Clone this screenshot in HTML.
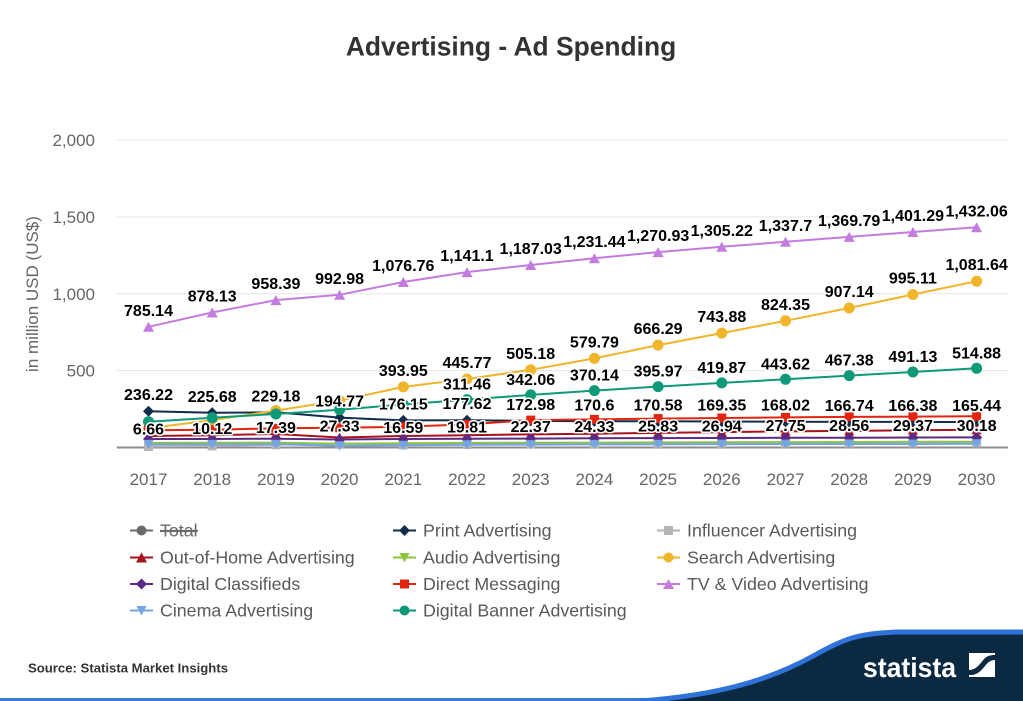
<!DOCTYPE html>
<html>
<head>
<meta charset="utf-8">
<style>
  html, body { margin:0; padding:0; background:#ffffff; }
  body { width:1023px; height:701px; overflow:hidden; }
  svg { display:block; }
  .ax { font-family:"Liberation Sans", sans-serif; font-size:17px; fill:#666666; }
  .dl { font-family:"Liberation Sans", sans-serif; font-size:16px; font-weight:bold; fill:#000000; stroke:#ffffff; stroke-width:3px; paint-order:stroke; stroke-linejoin:round; text-anchor:middle; }
  .lg { font-family:"Liberation Sans", sans-serif; font-size:17.8px; fill:#595959; }
</style>
</head>
<body>
<svg width="1023" height="701" viewBox="0 0 1023 701" xmlns="http://www.w3.org/2000/svg">
  <defs>
    <marker id="m-print" viewBox="-7 -7 14 14" markerWidth="14" markerHeight="14" refX="0" refY="0" markerUnits="userSpaceOnUse"><path d="M0,-5.5 L5.5,0 L0,5.5 L-5.5,0 Z" fill="#122d4a"/></marker>
    <marker id="m-infl" viewBox="-7 -7 14 14" markerWidth="14" markerHeight="14" refX="0" refY="0" markerUnits="userSpaceOnUse"><path d="M-4.5,-4.5 h9 v9 h-9 Z" fill="#b5b5b5"/></marker>
    <marker id="m-ooh" viewBox="-7 -7 14 14" markerWidth="14" markerHeight="14" refX="0" refY="0" markerUnits="userSpaceOnUse"><path d="M0,-5 L5,4.5 L-5,4.5 Z" fill="#a8121c"/></marker>
    <marker id="m-audio" viewBox="-7 -7 14 14" markerWidth="14" markerHeight="14" refX="0" refY="0" markerUnits="userSpaceOnUse"><path d="M-5,-4.5 L5,-4.5 L0,5 Z" fill="#8cc63e"/></marker>
    <marker id="m-search" viewBox="-7 -7 14 14" markerWidth="14" markerHeight="14" refX="0" refY="0" markerUnits="userSpaceOnUse"><circle r="5.5" fill="#f0b52a"/></marker>
    <marker id="m-dc" viewBox="-7 -7 14 14" markerWidth="14" markerHeight="14" refX="0" refY="0" markerUnits="userSpaceOnUse"><path d="M0,-5.5 L5.5,0 L0,5.5 L-5.5,0 Z" fill="#5d2a83"/></marker>
    <marker id="m-dm" viewBox="-7 -7 14 14" markerWidth="14" markerHeight="14" refX="0" refY="0" markerUnits="userSpaceOnUse"><path d="M-4.5,-4.5 h9 v9 h-9 Z" fill="#e3240e"/></marker>
    <marker id="m-tv" viewBox="-7 -7 14 14" markerWidth="14" markerHeight="14" refX="0" refY="0" markerUnits="userSpaceOnUse"><path d="M0,-5 L5.5,5 L-5.5,5 Z" fill="#c47be0"/></marker>
    <marker id="m-cin" viewBox="-7 -7 14 14" markerWidth="14" markerHeight="14" refX="0" refY="0" markerUnits="userSpaceOnUse"><path d="M-5,-4.5 L5,-4.5 L0,5 Z" fill="#74a4e4"/></marker>
    <marker id="m-ban" viewBox="-7 -7 14 14" markerWidth="14" markerHeight="14" refX="0" refY="0" markerUnits="userSpaceOnUse"><circle r="5.5" fill="#0e9a78"/></marker>
  </defs>

  <!-- Title -->
  <text x="511" y="55.5" text-anchor="middle" font-family="Liberation Sans, sans-serif" font-size="26.4" font-weight="bold" fill="#333333">Advertising - Ad Spending</text>

  <!-- Grid -->
  <g stroke="#e6e6e6" stroke-width="1">
    <line x1="116.7" y1="140" x2="1008" y2="140"/>
    <line x1="116.7" y1="216.9" x2="1008" y2="216.9"/>
    <line x1="116.7" y1="293.7" x2="1008" y2="293.7"/>
    <line x1="116.7" y1="370.6" x2="1008" y2="370.6"/>
  </g>
  <line x1="116.7" y1="447.5" x2="1008" y2="447.5" stroke="#8c8c8c" stroke-width="2"/>

  <!-- Y axis labels -->
  <g class="ax" text-anchor="end">
    <text x="95" y="146">2,000</text>
    <text x="95" y="223">1,500</text>
    <text x="95" y="300">1,000</text>
    <text x="95" y="376.5">500</text>
  </g>
  <text class="ax" transform="translate(38,294) rotate(-90)" text-anchor="middle">in million USD (US$)</text>

  <!-- X axis labels -->
  <g class="ax" text-anchor="middle">
    <text x="148.5" y="485">2017</text>
    <text x="212.2" y="485">2018</text>
    <text x="275.9" y="485">2019</text>
    <text x="339.6" y="485">2020</text>
    <text x="403.3" y="485">2021</text>
    <text x="467.0" y="485">2022</text>
    <text x="530.7" y="485">2023</text>
    <text x="594.4" y="485">2024</text>
    <text x="658.1" y="485">2025</text>
    <text x="721.8" y="485">2026</text>
    <text x="785.5" y="485">2027</text>
    <text x="849.2" y="485">2028</text>
    <text x="912.9" y="485">2029</text>
    <text x="976.6" y="485">2030</text>
  </g>

  <!-- Series -->
  <g fill="none" stroke-width="2" stroke-linejoin="round">
    <polyline stroke="#122d4a" marker-start="url(#m-print)" marker-mid="url(#m-print)" marker-end="url(#m-print)"
      points="148.5,411.2 212.2,412.8 275.9,412.3 339.6,417.6 403.3,420.4 467.0,420.2 530.7,420.9 594.4,421.3 658.1,421.3 721.8,421.5 785.5,421.7 849.2,421.9 912.9,421.9 976.6,422.1"/>
    <polyline stroke="#b5b5b5" marker-start="url(#m-infl)" marker-mid="url(#m-infl)" marker-end="url(#m-infl)"
      points="148.5,446.5 212.2,445.9 275.9,444.8 339.6,443.3 403.3,445.0 467.0,444.5 530.7,444.1 594.4,443.8 658.1,443.5 721.8,443.4 785.5,443.2 849.2,443.1 912.9,443.0 976.6,442.9"/>
    <polyline stroke="#a8121c" marker-start="url(#m-ooh)" marker-mid="url(#m-ooh)" marker-end="url(#m-ooh)"
      points="148.5,436.0 212.2,435.2 275.9,434.0 339.6,437.5 403.3,436.0 467.0,435.2 530.7,434.4 594.4,433.7 658.1,432.9 721.8,432.1 785.5,431.4 849.2,430.9 912.9,430.3 976.6,429.8"/>
    <polyline stroke="#8cc63e" marker-start="url(#m-audio)" marker-mid="url(#m-audio)" marker-end="url(#m-audio)"
      points="148.5,442.9 212.2,442.7 275.9,442.6 339.6,443.7 403.3,443.2 467.0,442.9 530.7,442.7 594.4,442.6 658.1,442.4 721.8,442.3 785.5,442.1 849.2,442.0 912.9,441.8 976.6,441.7"/>
    <polyline stroke="#f0b52a" marker-start="url(#m-search)" marker-mid="url(#m-search)" marker-end="url(#m-search)"
      points="148.5,428.3 212.2,420.1 275.9,410.6 339.6,400.6 403.3,386.9 467.0,379.0 530.7,369.8 594.4,358.4 658.1,345.1 721.8,333.1 785.5,320.8 849.2,308.0 912.9,294.5 976.6,281.2"/>
    <polyline stroke="#5d2a83" marker-start="url(#m-dc)" marker-mid="url(#m-dc)" marker-end="url(#m-dc)"
      points="148.5,439.0 212.2,439.0 275.9,438.7 339.6,439.5 403.3,439.0 467.0,438.7 530.7,438.6 594.4,438.3 658.1,438.1 721.8,438.0 785.5,437.8 849.2,437.7 912.9,437.5 976.6,437.4"/>
    <polyline stroke="#e3240e" marker-start="url(#m-dm)" marker-mid="url(#m-dm)" marker-end="url(#m-dm)"
      points="148.5,430.3 212.2,429.8 275.9,428.3 339.6,427.8 403.3,426.7 467.0,424.4 530.7,420.1 594.4,419.4 658.1,418.6 721.8,418.0 785.5,417.4 849.2,416.9 912.9,416.6 976.6,416.3"/>
    <polyline stroke="#c47be0" marker-start="url(#m-tv)" marker-mid="url(#m-tv)" marker-end="url(#m-tv)"
      points="148.5,326.8 212.2,312.5 275.9,300.1 339.6,294.8 403.3,282.0 467.0,272.1 530.7,265.0 594.4,258.2 658.1,252.1 721.8,246.8 785.5,241.8 849.2,236.9 912.9,232.0 976.6,227.3"/>
    <polyline stroke="#74a4e4" marker-start="url(#m-cin)" marker-mid="url(#m-cin)" marker-end="url(#m-cin)"
      points="148.5,444.4 212.2,444.4 275.9,444.3 339.6,445.7 403.3,445.2 467.0,444.7 530.7,444.6 594.4,444.4 658.1,444.3 721.8,444.1 785.5,444.1 849.2,444.0 912.9,444.0 976.6,443.8"/>
    <polyline stroke="#0e9a78" marker-start="url(#m-ban)" marker-mid="url(#m-ban)" marker-end="url(#m-ban)"
      points="148.5,421.7 212.2,417.8 275.9,414.0 339.6,409.7 403.3,404.5 467.0,399.6 530.7,394.9 594.4,390.6 658.1,386.6 721.8,382.9 785.5,379.3 849.2,375.6 912.9,372.0 976.6,368.3"/>
  </g>

  <!-- Data labels: Print -->
  <g class="dl">
    <text x="148.5" y="400.2">236.22</text>
    <text x="212.2" y="401.8">225.68</text>
    <text x="275.9" y="401.3">229.18</text>
    <text x="339.6" y="406.6">194.77</text>
    <text x="403.3" y="409.4">176.15</text>
    <text x="467.0" y="409.2">177.62</text>
    <text x="530.7" y="409.9">172.98</text>
    <text x="594.4" y="410.3">170.6</text>
    <text x="658.1" y="410.3">170.58</text>
    <text x="721.8" y="410.5">169.35</text>
    <text x="785.5" y="410.7">168.02</text>
    <text x="849.2" y="410.9">166.74</text>
    <text x="912.9" y="410.9">166.38</text>
    <text x="976.6" y="411.1">165.44</text>
  </g>
  <!-- Influencer -->
  <g class="dl">
    <text x="148.5" y="434.5">6.66</text>
    <text x="212.2" y="433.9">10.12</text>
    <text x="275.9" y="432.8">17.39</text>
    <text x="339.6" y="431.3">27.33</text>
    <text x="403.3" y="433.0">16.59</text>
    <text x="467.0" y="432.5">19.81</text>
    <text x="530.7" y="432.1">22.37</text>
    <text x="594.4" y="431.8">24.33</text>
    <text x="658.1" y="431.5">25.83</text>
    <text x="721.8" y="431.4">26.94</text>
    <text x="785.5" y="431.2">27.75</text>
    <text x="849.2" y="431.1">28.56</text>
    <text x="912.9" y="431.0">29.37</text>
    <text x="976.6" y="430.9">30.18</text>
  </g>
  <!-- Search -->
  <g class="dl">
    <text x="403.3" y="375.9">393.95</text>
    <text x="467.0" y="368.0">445.77</text>
    <text x="530.7" y="358.8">505.18</text>
    <text x="594.4" y="347.4">579.79</text>
    <text x="658.1" y="334.1">666.29</text>
    <text x="721.8" y="322.1">743.88</text>
    <text x="785.5" y="309.8">824.35</text>
    <text x="849.2" y="297.0">907.14</text>
    <text x="912.9" y="283.5">995.11</text>
    <text x="976.6" y="270.2">1,081.64</text>
  </g>
  <!-- TV & Video -->
  <g class="dl">
    <text x="148.5" y="315.8">785.14</text>
    <text x="212.2" y="301.5">878.13</text>
    <text x="275.9" y="289.1">958.39</text>
    <text x="339.6" y="283.8">992.98</text>
    <text x="403.3" y="271.0">1,076.76</text>
    <text x="467.0" y="261.1">1,141.1</text>
    <text x="530.7" y="254.0">1,187.03</text>
    <text x="594.4" y="247.2">1,231.44</text>
    <text x="658.1" y="241.1">1,270.93</text>
    <text x="721.8" y="235.8">1,305.22</text>
    <text x="785.5" y="230.8">1,337.7</text>
    <text x="849.2" y="225.9">1,369.79</text>
    <text x="912.9" y="221.0">1,401.29</text>
    <text x="976.6" y="216.3">1,432.06</text>
  </g>
  <!-- Digital Banner -->
  <g class="dl">
    <text x="467.0" y="389.6">311.46</text>
    <text x="530.7" y="384.9">342.06</text>
    <text x="594.4" y="380.6">370.14</text>
    <text x="658.1" y="376.6">395.97</text>
    <text x="721.8" y="372.9">419.87</text>
    <text x="785.5" y="369.3">443.62</text>
    <text x="849.2" y="365.6">467.38</text>
    <text x="912.9" y="362.0">491.13</text>
    <text x="976.6" y="358.3">514.88</text>
  </g>

  <!-- Legend -->
  <g stroke-width="2">
    <line x1="130" y1="530.5" x2="153" y2="530.5" stroke="#6b6b6b"/>
    <circle cx="141.5" cy="530.5" r="5" fill="#6b6b6b"/>
    <line x1="393" y1="530.5" x2="416" y2="530.5" stroke="#122d4a"/>
    <path d="M404.5,525 L410,530.5 L404.5,536 L399,530.5 Z" fill="#122d4a"/>
    <line x1="657" y1="530.5" x2="680" y2="530.5" stroke="#b5b5b5"/>
    <rect x="664" y="526" width="9" height="9" fill="#b5b5b5"/>

    <line x1="130" y1="557.5" x2="153" y2="557.5" stroke="#a8121c"/>
    <path d="M141.5,552.5 L147,562.5 L136,562.5 Z" fill="#a8121c"/>
    <line x1="393" y1="557.5" x2="416" y2="557.5" stroke="#8cc63e"/>
    <path d="M399.5,553 L409.5,553 L404.5,562.5 Z" fill="#8cc63e"/>
    <line x1="657" y1="557.5" x2="680" y2="557.5" stroke="#f0b52a"/>
    <circle cx="668.5" cy="557.5" r="5" fill="#f0b52a"/>

    <line x1="130" y1="584" x2="153" y2="584" stroke="#5d2a83"/>
    <path d="M141.5,578.5 L147,584 L141.5,589.5 L136,584 Z" fill="#5d2a83"/>
    <line x1="393" y1="584" x2="416" y2="584" stroke="#e3240e"/>
    <rect x="400" y="579.5" width="9" height="9" fill="#e3240e"/>
    <line x1="657" y1="584" x2="680" y2="584" stroke="#c47be0"/>
    <path d="M668.5,579 L674,589 L663,589 Z" fill="#c47be0"/>

    <line x1="130" y1="610.5" x2="153" y2="610.5" stroke="#74a4e4"/>
    <path d="M136.5,606 L146.5,606 L141.5,615.5 Z" fill="#74a4e4"/>
    <line x1="393" y1="610.5" x2="416" y2="610.5" stroke="#0e9a78"/>
    <circle cx="404.5" cy="610.5" r="5" fill="#0e9a78"/>
  </g>
  <g class="lg">
    <text x="160" y="536.5" fill="#6b6b6b" text-decoration="line-through">Total</text>
    <text x="423" y="536.5">Print Advertising</text>
    <text x="687" y="536.5">Influencer Advertising</text>
    <text x="160" y="563.5">Out-of-Home Advertising</text>
    <text x="423" y="563.5">Audio Advertising</text>
    <text x="687" y="563.5">Search Advertising</text>
    <text x="160" y="590">Digital Classifieds</text>
    <text x="423" y="590">Direct Messaging</text>
    <text x="687" y="590">TV &amp; Video Advertising</text>
    <text x="160" y="616.5">Cinema Advertising</text>
    <text x="423" y="616.5">Digital Banner Advertising</text>
  </g>
  <line x1="160" y1="530.5" x2="198" y2="530.5" stroke="#6b6b6b" stroke-width="1.2"/>

  <!-- Footer -->
  <text x="28" y="672.5" font-family="Liberation Sans, sans-serif" font-size="12.5" font-weight="bold" fill="#333333" textLength="200" lengthAdjust="spacingAndGlyphs">Source: Statista Market Insights</text>
  <rect x="0" y="698" width="1023" height="3" fill="#3b78d8"/>
  <path d="M640,701 C720,695 770,680 815,655 C845,638 860,633 900,632 L1023,632 L1023,701 Z" fill="#0b2a42"/>
  <path d="M640,701 C720,695 770,680 815,655 C845,638 860,633 900,632 L1023,632" fill="none" stroke="#2f73d9" stroke-width="5"/>
  <text x="863" y="677" font-family="Liberation Sans, sans-serif" font-size="28" font-weight="bold" fill="#ffffff" textLength="93" lengthAdjust="spacingAndGlyphs">statista</text>
  <rect x="969" y="653" width="26" height="24" fill="#ffffff"/>
  <path d="M969,670 C976,670 980,664 984,659 C987,656 990,655 995,655 L995,660 C991,660 988,662 985,666 C981,671 977,675 971,675 L969,675 Z" fill="#0b2a42"/>
</svg>
</body>
</html>
